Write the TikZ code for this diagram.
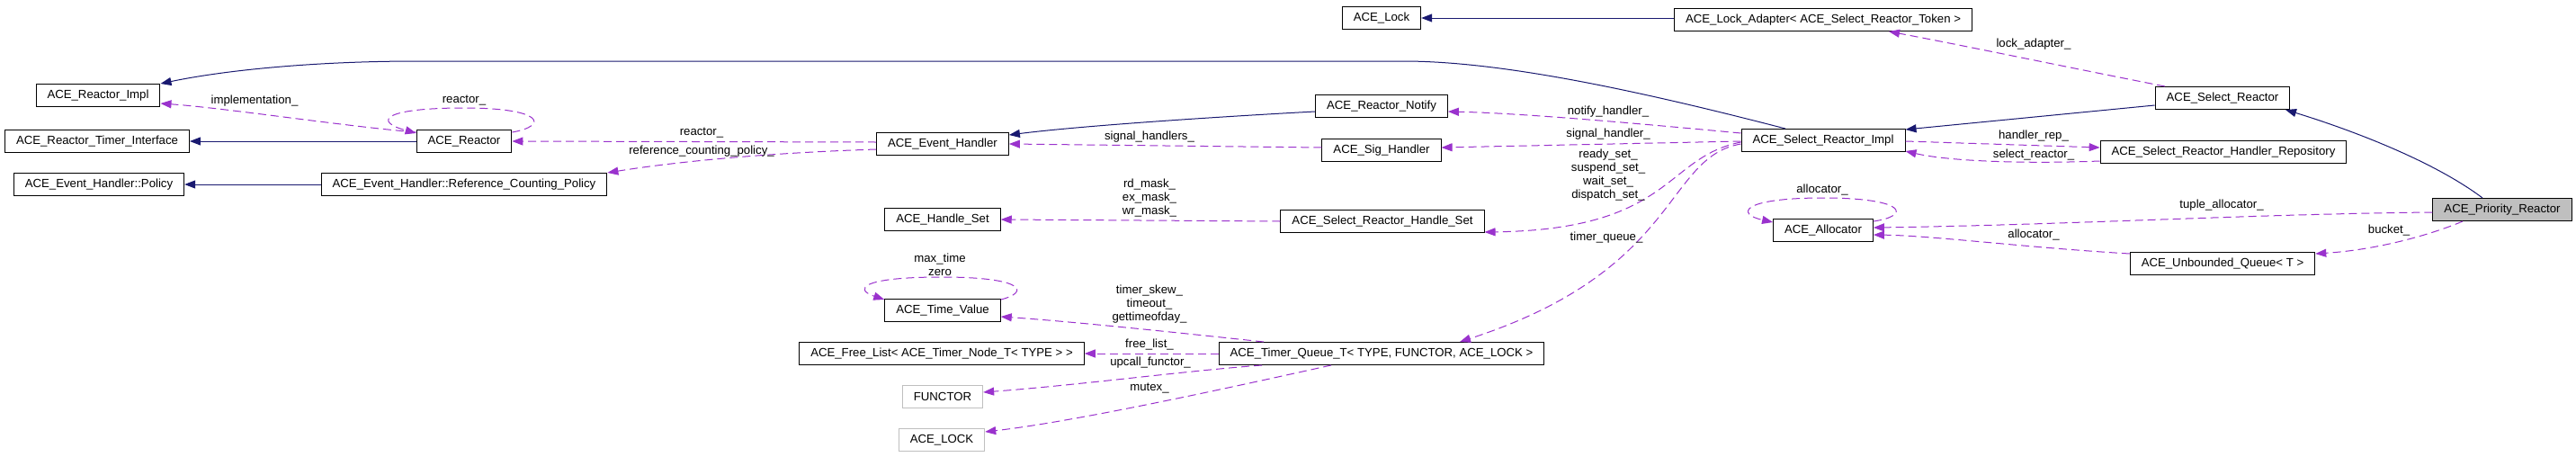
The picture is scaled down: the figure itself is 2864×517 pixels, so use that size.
\documentclass[tikz,border=0pt]{standalone}
\usepackage{fontspec}
\setmainfont{Liberation Sans}
\usetikzlibrary{arrows.meta,calc}
\definecolor{inhc}{HTML}{191970}
\definecolor{usec}{HTML}{9A32CD}
\definecolor{grayb}{HTML}{BFBFBF}
\begin{document}
\begin{tikzpicture}[x=1pt,y=-1pt,
 cls/.style={draw=black, line width=1pt, inner xsep=12.5pt, inner ysep=0pt, minimum height=25pt, font=\fontsize{13.2}{15}\selectfont},
 ext/.style={cls, draw=grayb},
 cur/.style={cls, fill=grayb},
 lbl/.style={inner sep=0pt, align=center, font=\fontsize{13.2}{15}\selectfont},
 inh/.style={draw=inhc, line width=1pt, -{Triangle[length=12pt,width=9pt]}, color=inhc},
 use/.style={draw=usec, line width=1pt, dash pattern=on 9pt off 5pt, -{Triangle[length=12pt,width=9pt]}, color=usec},
]
\useasboundingbox (0,0) rectangle (2864,517);
\fill[white] (0,0) rectangle (2864,517);

% nodes
\node[cls] (rimpl) at (109,106) {ACE\_Reactor\_Impl};
\node[cls] (rti) at (108,157) {ACE\_Reactor\_Timer\_Interface};
\node[cls] (pol) at (110,205) {ACE\_Event\_Handler::Policy};
\node[cls] (reactor) at (516,157) {ACE\_Reactor};
\node[cls] (rcp) at (516,205) {ACE\_Event\_Handler::Reference\_Counting\_Policy};
\node[cls] (eh) at (1048,160) {ACE\_Event\_Handler};
\node[cls] (hset) at (1048,244) {ACE\_Handle\_Set};
\node[cls] (tv) at (1048,345) {ACE\_Time\_Value};
\node[cls] (fl) at (1047,393) {ACE\_Free\_List< ACE\_Timer\_Node\_T< TYPE > >};
\node[ext] (functor) at (1048,441) {FUNCTOR};
\node[ext] (lock2) at (1047,489) {ACE\_LOCK};
\node[cls] (lock) at (1536,20) {ACE\_Lock};
\node[cls] (notify) at (1536,118) {ACE\_Reactor\_Notify};
\node[cls] (sig) at (1536,167) {ACE\_Sig\_Handler};
\node[cls] (srhs) at (1537,246) {ACE\_Select\_Reactor\_Handle\_Set};
\node[cls] (tq) at (1536,393) {ACE\_Timer\_Queue\_T< TYPE, FUNCTOR, ACE\_LOCK >};
\node[cls] (lockad) at (2027,22) {ACE\_Lock\_Adapter< ACE\_Select\_Reactor\_Token >};
\node[cls] (sri) at (2027,156) {ACE\_Select\_Reactor\_Impl};
\node[cls] (alloc) at (2027,256) {ACE\_Allocator};
\node[cls] (sr) at (2471,109) {ACE\_Select\_Reactor};
\node[cls] (rep) at (2472,169) {ACE\_Select\_Reactor\_Handler\_Repository};
\node[cls] (uq) at (2471,293) {ACE\_Unbounded\_Queue< T >};
\node[cur] (pr) at (2782,233) {ACE\_Priority\_Reactor};

% inheritance
\draw[inh] (lockad.west |- lock.east) -- (lock.east);
\draw[inh] ([xshift=-42pt]sri.north) .. controls (1800,95) and (1660,68) .. (1560,68) -- (464,68) .. controls (350,68) and (250,78) .. (rimpl.north east);
\draw[inh] ([yshift=-6pt]notify.west) .. controls (1350,130) and (1200,140) .. ([yshift=10pt]eh.east);
\draw[inh] (reactor.west) -- (rti.east);
\draw[inh] (rcp.west) -- (pol.east);
\draw[inh] ([yshift=-8pt]sr.west) -- ([yshift=12pt]sri.east);
\draw[inh] ([xshift=-22pt]pr.north) .. controls (2700,175) and (2600,140) .. ([xshift=70pt]sr.south);

% usage
\draw[use] ([yshift=-3pt]reactor.north west) .. controls (380,140) and (250,120) .. ([yshift=-9pt]rimpl.east);
\node[lbl] (l1) at (283,112) {implementation\_};
\draw[use] ([yshift=-3pt]reactor.north east) .. controls (610,140) and (605,120) .. (516,120) .. controls (425,120) and (415,135) .. ([yshift=-4pt]reactor.north west);
\node[lbl] (l2) at (516,112) {reactor\_};
\draw[use] ([yshift=2pt]eh.west) -- (reactor.east);
\node[lbl] (l3) at (780,148) {reactor\_};
\draw[use] ([yshift=-6pt]eh.west) .. controls (850,170) and (750,180) .. (rcp.north east);
\node[lbl] (l4) at (780,168) {reference\_counting\_policy\_};
\draw[use] ([yshift=3pt]sig.west) -- (eh.east);
\node[lbl] (l5) at (1278,152) {signal\_handlers\_};
\draw[use] ([yshift=8pt]sri.west) .. controls (1850,140) and (1700,126) .. ([yshift=-6pt]notify.east);
\node[lbl] (l6) at (1788,124) {notify\_handler\_};
\draw[use] ([yshift=-1pt]sri.west) -- ([yshift=3pt]sig.east);
\node[lbl] (l7) at (1788,149) {signal\_handler\_};
\draw[use] ([yshift=-2pt]sri.west) .. controls (1850,175) and (1860,255) .. ([yshift=-12pt]srhs.east);
\node[lbl] (l8) at (1788,195) {ready\_set\_\\suspend\_set\_\\wait\_set\_\\dispatch\_set\_};
\draw[use] ([yshift=-4pt]sri.west) .. controls (1850,175) and (1870,300) .. ([xshift=87pt]tq.north);
\node[lbl] (l9) at (1786,264) {timer\_queue\_};
\draw[use] (srhs.west) -- (hset.east);
\node[lbl] (l10) at (1278,220) {rd\_mask\_\\ex\_mask\_\\wr\_mask\_};
\draw[use] ([yshift=-1pt]tv.north east) .. controls (1145,325) and (1140,308) .. (1047,308) .. controls (955,308) and (950,322) .. ([yshift=-1pt]tv.north west);
\node[lbl] (l11) at (1045,294) {max\_time\\zero};
\draw[use] ([xshift=-131pt]tq.north) .. controls (1330,372) and (1200,358) .. ([yshift=-7pt]tv.east);
\node[lbl] (l12) at (1278,338) {timer\_skew\_\\timeout\_\\gettimeofday\_};
\draw[use] (tq.west) -- (fl.east);
\node[lbl] (l13) at (1278,383) {free\_list\_};
\draw[use] ([xshift=-133pt]tq.south) .. controls (1320,412) and (1200,428) .. ([yshift=5pt]functor.east);
\node[lbl] (l14) at (1279,403) {upcall\_functor\_};
\draw[use] ([xshift=-56pt]tq.south) .. controls (1380,428) and (1200,468) .. ([yshift=9pt]lock2.east);
\node[lbl] (l15) at (1278,432) {mutex\_};
\draw[use] ([xshift=-64pt]sr.north) .. controls (2300,75) and (2180,50) .. ([xshift=73pt]lockad.south);
\node[lbl] (l16) at (2261,49) {lock\_adapter\_};
\draw[use] ([yshift=-1pt]sri.east) -- ([yshift=5pt]rep.west);
\node[lbl] (l17) at (2261,151) {handler\_rep\_};
\draw[use] ([yshift=-10pt]rep.west) .. controls (2260,182) and (2170,180) .. ([yshift=-12pt]sri.east);
\node[lbl] (l18) at (2261,172) {select\_reactor\_};
\draw[use] ([yshift=-3pt]alloc.north east) .. controls (2125,240) and (2120,220) .. (2027,220) .. controls (1935,220) and (1930,238) .. ([yshift=-4pt]alloc.north west);
\node[lbl] (l19) at (2026,211) {allocator\_};
\draw[use] ([yshift=-3pt]pr.west) .. controls (2500,238) and (2300,250) .. ([yshift=3pt]alloc.east);
\node[lbl] (l20) at (2470,228) {tuple\_allocator\_};
\draw[use] ([yshift=-2pt]uq.north west) .. controls (2250,275) and (2150,262) .. ([yshift=-5pt]alloc.east);
\node[lbl] (l21) at (2261,261) {allocator\_};
\draw[use] ([xshift=-44pt]pr.south) .. controls (2700,262) and (2640,278) .. ([yshift=-2pt]uq.north east);
\node[lbl] (l22) at (2656,256) {bucket\_};
\end{tikzpicture}
\end{document}
